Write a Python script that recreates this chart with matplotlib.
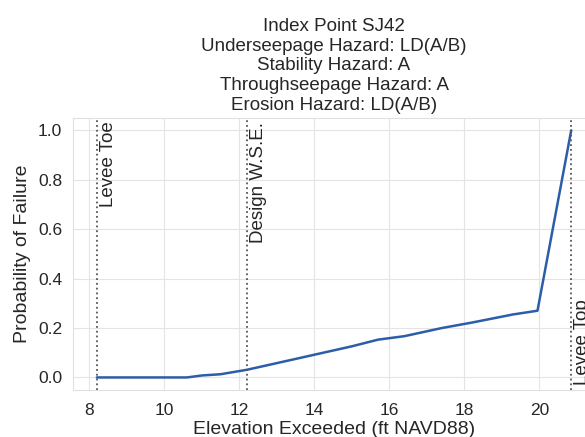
import matplotlib
matplotlib.use("Agg")
import matplotlib.pyplot as plt
import seaborn as sns

# fragility curve for the index point
elevation = [8.2, 10.6, 11.0, 11.5, 12.2, 13.0, 14.0, 15.0, 15.7, 16.4, 17.4, 18.2, 19.3, 19.95, 20.85]
prob_failure = [0.0, 0.0, 0.008, 0.013, 0.031, 0.058, 0.092, 0.126, 0.153, 0.167, 0.2, 0.222, 0.255, 0.27, 1.0]

# reference elevations (ft NAVD88)
levee_toe = 8.2
design_wse = 12.2
levee_top = 20.85

title_lines = [
    "Index Point SJ42",
    "Underseepage Hazard: LD(A/B)",
    "Stability Hazard: A",
    "Throughseepage Hazard: A",
    "Erosion Hazard: LD(A/B)",
]

sns.set_style("whitegrid", {"grid.color": "#e4e4e4", "axes.edgecolor": "#e0e0e0"})
plt.rcParams['font.family'] = ['Liberation Sans', 'DejaVu Sans']

fig = plt.figure(figsize=(5.85, 4.37), dpi=100)
ax = fig.add_axes([0.125, 0.108, 0.892, 0.622])

ax.plot(elevation, prob_failure, color='#2c5da8', linewidth=1.8)

for xv in (levee_toe, design_wse, levee_top):
    ax.axvline(xv, color='#555555', linestyle=':', linewidth=1.3)

ax.text(levee_toe + 0.08, 1.035, "Levee Toe", rotation=90, va='top', ha='left',
        fontsize=13.5, color='#262626')
ax.text(design_wse + 0.08, 1.035, "Design W.S.E.", rotation=90, va='top', ha='left',
        fontsize=13.5, color='#262626')
ax.text(levee_top + 0.08, -0.03, "Levee Top", rotation=90, va='bottom', ha='left',
        fontsize=13.5, color='#262626')

ax.set_xlabel("Elevation Exceeded (ft NAVD88)", fontsize=14, color='#262626', labelpad=2.5)
ax.set_ylabel("Probability of Failure", fontsize=14, color='#262626', labelpad=5)
ax.set_title("\n".join(title_lines), fontsize=13.5, color='#262626', pad=6)

ax.set_xticks([8, 10, 12, 14, 16, 18, 20])
ax.set_yticks([0.0, 0.2, 0.4, 0.6, 0.8, 1.0])
ax.tick_params(axis='both', labelsize=12.5, length=0, pad=8, colors='#262626')
ax.tick_params(axis='x', pad=9.5)

fig.savefig("out.png", dpi=100)
